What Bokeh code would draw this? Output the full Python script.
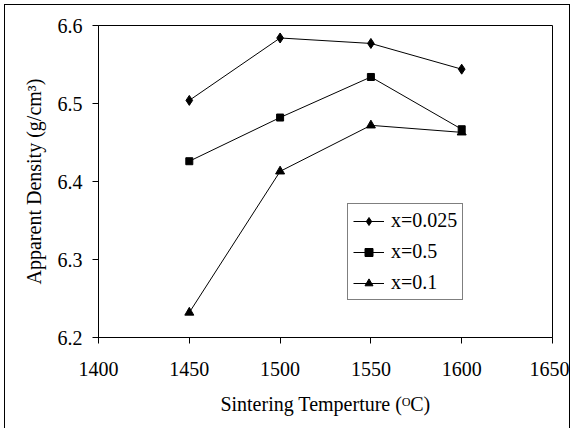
from bokeh.plotting import figure
from bokeh.models import Range1d, FixedTicker, Legend, LegendItem
from bokeh.embed import file_html
from bokeh.resources import INLINE

temps = [1450, 1500, 1550, 1600]
dens_0025 = [6.504, 6.584, 6.577, 6.544]
dens_05 = [6.426, 6.482, 6.534, 6.467]
dens_01 = [6.232, 6.413, 6.472, 6.463]
series_names = ["x=0.025", "x=0.5", "x=0.1"]
x_ticks = [1400, 1450, 1500, 1550, 1600, 1650]
y_ticks = [6.2, 6.3, 6.4, 6.5, 6.6]

FONT = "Liberation Serif"

p = figure(width=566, height=432, output_backend="svg", toolbar_location=None,
           x_range=Range1d(1400, 1650), y_range=Range1d(6.2, 6.6),
           min_border_left=93, min_border_right=19, min_border_top=20, min_border_bottom=100)
p.styles = {"border": "1px solid black", "margin-left": "4px", "margin-top": "4px"}
p.background_fill_color = "white"
p.border_fill_color = "white"
p.outline_line_color = "black"
p.outline_line_width = 1
p.xgrid.visible = False
p.ygrid.visible = False

for ax, ticks in ((p.xaxis, x_ticks), (p.yaxis, y_ticks)):
    ax.ticker = FixedTicker(ticks=ticks)
    ax.minor_tick_line_color = None
    ax.major_tick_in = 0
    ax.major_tick_out = 6
    ax.axis_line_color = "black"
    ax.major_tick_line_color = "black"
    ax.major_label_text_font = FONT
    ax.major_label_text_font_size = "20px"
    ax.major_label_text_color = "black"
    ax.axis_label_text_font = FONT
    ax.axis_label_text_font_size = "20px"
    ax.axis_label_text_font_style = "normal"
    ax.axis_label_text_color = "black"

p.xaxis.axis_label = "Sintering Temperture (\u1d3cC)"
p.yaxis.axis_label = "Apparent Density (g/cm\u00b3)"
p.xaxis.major_label_standoff = 18
p.yaxis.major_label_standoff = 10
p.xaxis.axis_label_standoff = 14
p.yaxis.axis_label_standoff = 10

items = []
specs = [(dens_0025, "diamond", 10), (dens_05, "square", 7), (dens_01, "triangle", 9)]
for name, (vals, marker, size) in zip(series_names, specs):
    l = p.line(temps, vals, line_color="black", line_width=1)
    s = p.scatter(temps, vals, marker=marker, size=size, fill_color="black", line_color="black")
    items.append(LegendItem(label=name, renderers=[l, s]))

legend = Legend(items=items, location=(249, 37))
legend.label_text_font = FONT
legend.label_text_font_size = "20px"
legend.label_text_color = "black"
legend.border_line_color = "black"
legend.border_line_width = 1
legend.background_fill_color = "white"
legend.background_fill_alpha = 1
legend.glyph_width = 31
legend.glyph_height = 20
legend.label_height = 20
legend.label_standoff = 7
legend.spacing = 8
legend.padding = 5
legend.margin = 0
p.add_layout(legend)

open("out.html", "w").write(file_html(p, INLINE))
